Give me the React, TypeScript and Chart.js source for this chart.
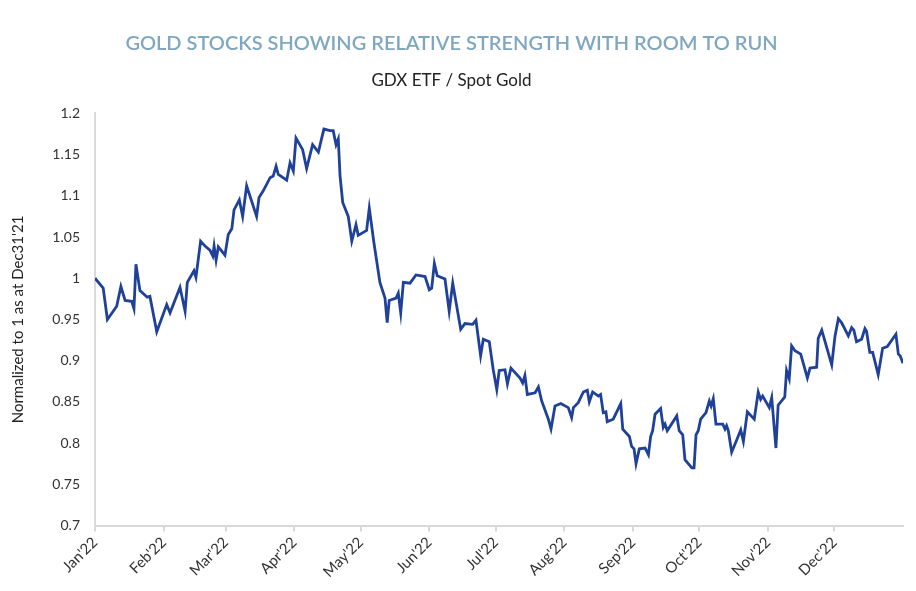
import React, { useEffect, useRef } from "react";
import { Chart, registerables } from "chart.js";

Chart.register(...registerables);

const TITLE = "GOLD STOCKS SHOWING RELATIVE STRENGTH WITH ROOM TO RUN";
const SUBTITLE = "GDX ETF / Spot Gold";
const Y_TITLE = "Normalized to 1 as at Dec31'21";

const monthStarts = [0, 31, 59, 90, 120, 151, 181, 212, 243, 273, 304, 334];
const monthLabels = ["Jan'22", "Feb'22", "Mar'22", "Apr'22", "May'22", "Jun'22", "Jul'22", "Aug'22", "Sep'22", "Oct'22", "Nov'22", "Dec'22"];

// day of year (0 = Dec 31 2021)
const days = [
  0, 3.7, 5.6, 9.8, 11.7, 13.6, 16.6, 17.6, 18.5, 20.3, 23.6, 24.8, 27.9, 32.4, 33.9, 38.4, 40.7, 41.7, 44.7, 45.6,
  47.7, 49.7, 51.9, 53.2, 53.8, 54.7, 55.7, 58.7, 60.2, 61.8, 62.8, 65.2, 66.7, 68.5, 73.0, 74.1, 76.0, 79.1, 80.5, 81.8,
  82.8, 86.6, 88.1, 89.6, 90.8, 93.8, 95.6, 98.3, 100.9, 103.4, 106.2, 107.6, 108.9, 109.9, 110.7, 111.9, 114.4, 116.0, 117.9, 118.9,
  122.7, 123.9, 126.0, 128.7, 131.0, 132.0, 132.9, 136.0, 137.0, 138.1, 139.3, 142.3, 145.0, 149.1, 151.0, 152.1, 153.3, 154.6, 158.1, 160.0,
  161.6, 165.2, 167.1, 170.6, 172.1, 174.2, 175.4, 178.1, 179.9, 181.5, 182.6, 185.2, 186.3, 187.9, 192.0, 193.2, 194.2, 195.3, 198.8, 200.3,
  201.8, 204.8, 206.0, 207.8, 210.4, 213.8, 215.3, 216.1, 218.3, 220.6, 222.4, 223.3, 224.8, 227.4, 228.4, 229.6, 230.8, 231.4, 234.1, 237.5,
  238.4, 241.4, 242.4, 243.5, 244.4, 245.9, 248.5, 250.0, 251.0, 251.9, 253.0, 255.5, 256.7, 257.5, 258.5, 262.8, 263.9, 265.5, 266.5, 269.6,
  270.6, 271.5, 272.5, 273.6, 276.0, 277.5, 278.3, 279.3, 280.5, 283.6, 284.6, 285.3, 286.1, 287.6, 289.6, 291.7, 292.9, 294.7, 297.8, 299.6,
  300.7, 301.6, 304.6, 305.7, 307.6, 308.6, 311.6, 312.4, 313.6, 314.7, 316.2, 318.8, 321.8, 323.0, 326.0, 326.7, 328.3, 332.8, 334.3, 335.8,
  337.3, 340.3, 341.8, 342.8, 344.0, 346.3, 347.8, 348.5, 350.0, 351.3, 353.8, 355.8, 357.9, 361.8, 362.9, 363.7, 365.0,
];

const ratio = [
  1.0, 0.988, 0.95, 0.966, 0.99, 0.973, 0.972, 0.963, 1.017, 0.985, 0.977, 0.978, 0.935, 0.968, 0.958, 0.989, 0.96, 0.995, 1.009, 1.001,
  1.045, 1.039, 1.034, 1.027, 1.039, 1.022, 1.038, 1.028, 1.053, 1.06, 1.083, 1.095, 1.075, 1.112, 1.075, 1.098, 1.106, 1.122, 1.124, 1.136,
  1.126, 1.119, 1.14, 1.13, 1.17, 1.156, 1.133, 1.162, 1.153, 1.181, 1.179, 1.179, 1.162, 1.169, 1.124, 1.092, 1.075, 1.045, 1.065, 1.052,
  1.058, 1.085, 1.043, 0.995, 0.976, 0.946, 0.973, 0.976, 0.982, 0.958, 0.995, 0.994, 1.004, 1.002, 0.986, 0.988, 1.018, 1.003, 0.999, 0.96,
  0.994, 0.938, 0.945, 0.944, 0.949, 0.906, 0.926, 0.923, 0.889, 0.865, 0.888, 0.889, 0.872, 0.891, 0.879, 0.873, 0.882, 0.859, 0.861, 0.868,
  0.851, 0.829, 0.817, 0.845, 0.848, 0.843, 0.831, 0.843, 0.849, 0.862, 0.864, 0.85, 0.862, 0.857, 0.859, 0.837, 0.838, 0.826, 0.829, 0.848,
  0.817, 0.808, 0.796, 0.793, 0.775, 0.793, 0.794, 0.786, 0.808, 0.815, 0.835, 0.842, 0.819, 0.823, 0.815, 0.833, 0.815, 0.81, 0.78, 0.77,
  0.77, 0.81, 0.815, 0.829, 0.837, 0.851, 0.845, 0.854, 0.823, 0.823, 0.817, 0.821, 0.815, 0.789, 0.802, 0.816, 0.802, 0.838, 0.829, 0.862,
  0.853, 0.857, 0.843, 0.855, 0.794, 0.846, 0.856, 0.888, 0.878, 0.918, 0.912, 0.908, 0.879, 0.891, 0.892, 0.927, 0.937, 0.895, 0.93, 0.951,
  0.946, 0.93, 0.94, 0.937, 0.923, 0.926, 0.939, 0.936, 0.91, 0.91, 0.883, 0.915, 0.917, 0.932, 0.908, 0.906, 0.897,
];

const FONT = "Lato, 'Noto Sans', sans-serif";

export default function App() {
  const ref = useRef<HTMLCanvasElement | null>(null);
  useEffect(() => {
    if (!ref.current) return;
    const points = days.map((d, i) => ({ x: d, y: ratio[i] }));
    const chart = new Chart(ref.current, {
      type: "line",
      data: {
        datasets: [
          {
            data: points,
            borderColor: "#1f4199",
            borderWidth: 2.8,
            pointRadius: 0,
            tension: 0,
            fill: false,
          },
        ],
      },
      options: {
        animation: false,
        responsive: false,
        maintainAspectRatio: false,
        layout: { padding: { left: 0, right: 13, top: 0, bottom: 8 } },
        plugins: {
          legend: { display: false },
          tooltip: { enabled: false },
          title: {
            display: true,
            text: TITLE,
            color: "#7fa8c0",
            font: { family: FONT, size: 20, weight: "600" },
            padding: { top: 32, bottom: 14 },
          },
          subtitle: {
            display: true,
            text: SUBTITLE,
            color: "#222222",
            font: { family: FONT, size: 17, weight: "400" },
            padding: { top: 0, bottom: 23 },
          },
        },
        scales: {
          x: {
            type: "linear",
            min: 0,
            max: 365,
            afterBuildTicks: (scale: any) => {
              scale.ticks = monthStarts.map((v) => ({ value: v }));
            },
            ticks: {
              autoSkip: false,
              minRotation: 45,
              maxRotation: 45,
              color: "#333333",
              font: { family: FONT, size: 15 },
              padding: 2,
              callback: (v: any) => {
                const i = monthStarts.indexOf(Number(v));
                return i >= 0 ? monthLabels[i] : "";
              },
            },
            grid: {
              drawOnChartArea: false,
              drawTicks: true,
              tickLength: 6,
              color: "#d9d9d9",
              lineWidth: 2,
            },
            border: { display: true, color: "#d9d9d9", width: 2 },
          },
          y: {
            type: "linear",
            min: 0.7,
            max: 1.2,
            afterFit: (scale: any) => {
              scale.width = 95;
            },
            ticks: {
              stepSize: 0.05,
              color: "#333333",
              font: { family: FONT, size: 14 },
              padding: 15,
              callback: (v: any) => String(Number(Number(v).toFixed(2))),
            },
            grid: { drawOnChartArea: false, drawTicks: false },
            border: { display: true, color: "#d9d9d9", width: 2 },
            title: {
              display: true,
              text: Y_TITLE,
              color: "#222222",
              font: { family: FONT, size: 15 },
              padding: { top: 9, bottom: 0 },
            },
          },
        },
      },
    });
    return () => chart.destroy();
  }, []);
  return (
    <div style={{ position: "fixed", left: 0, top: 0, width: 916, height: 591, background: "#ffffff" }}>
      <canvas ref={ref} width={916} height={591} style={{ width: 916, height: 591 }} />
    </div>
  );
}
